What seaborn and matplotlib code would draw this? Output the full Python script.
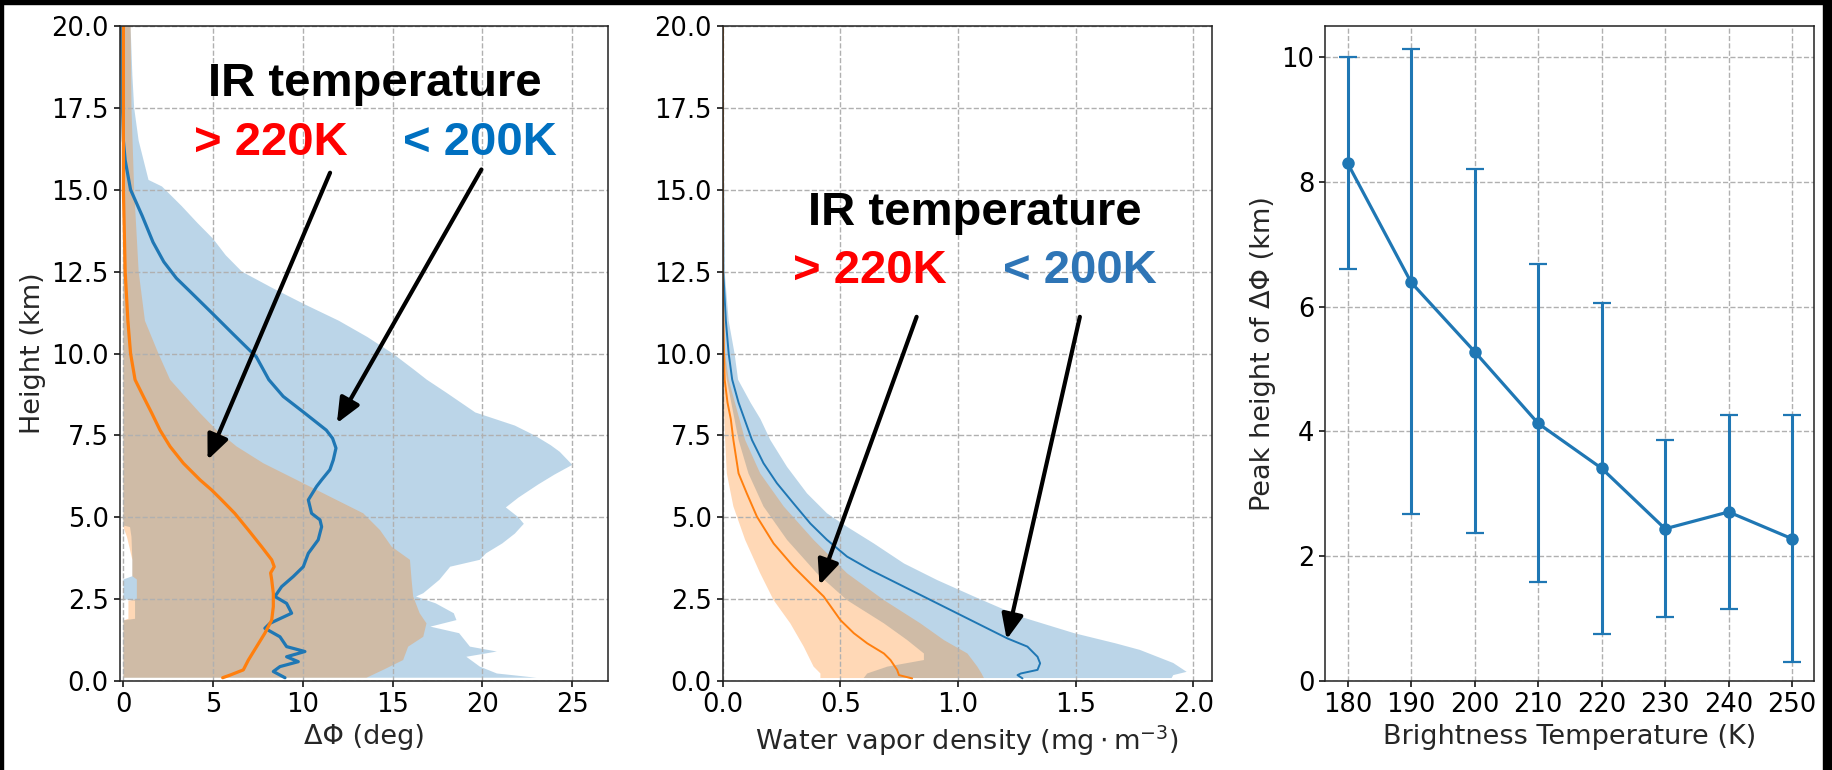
import numpy as np
import matplotlib
matplotlib.use("Agg")
import matplotlib.pyplot as plt
from matplotlib.patches import Rectangle
import seaborn as sns

# ---------------- Panel 1: Delta-Phi profiles ----------------
# cold (< 200K) mean profile
dphi_cold_h = [20.0, 17.5, 16.5, 15.9, 15.0, 14.2, 13.4, 12.8, 12.3, 11.9, 11.2, 10.6, 9.9, 9.2,
               8.69, 8.18, 7.66, 7.41, 7.11, 6.75, 6.45, 6.14, 5.94, 5.53, 5.12, 4.92, 4.71, 4.31,
               3.90, 3.49, 3.19, 2.88, 2.58, 2.37, 2.07, 1.76, 1.61, 1.35, 1.05, 0.90, 0.74, 0.59,
               0.44, 0.29, 0.10]
dphi_cold_v = [-0.1, -0.05, 0.0, 0.1, 0.4, 1.05, 1.65, 2.25, 2.95, 3.7, 5.0, 6.1, 7.4, 8.1,
               8.9, 10.1, 11.3, 11.65, 11.84, 11.69, 11.5, 11.04, 10.76, 10.3, 10.48, 10.95, 11.04, 10.85,
               10.3, 10.02, 9.46, 8.81, 8.44, 9.09, 9.37, 8.16, 7.88, 8.72, 9.09, 10.11, 9.09, 9.74,
               8.72, 8.35, 9.0]
# warm (> 220K) mean profile
dphi_warm_h = [20.0, 17.5, 15.0, 12.5, 11.0, 10.0, 9.2, 8.69, 8.18, 7.66, 7.16, 6.65, 6.14, 5.83,
               5.53, 5.12, 4.61, 4.10, 3.70, 3.49, 3.30, 3.09, 2.68, 2.27, 1.86, 1.46, 1.05, 0.64,
               0.34, 0.18, 0.10]
dphi_warm_v = [0.0, 0.0, 0.0, 0.1, 0.25, 0.4, 0.65, 1.11, 1.58, 2.04, 2.6, 3.34, 4.27, 4.92,
               5.47, 6.2, 6.96, 7.7, 8.26, 8.4, 8.2, 8.26, 8.35, 8.35, 8.26, 7.88, 7.42, 6.96,
               6.68, 5.94, 5.53]
# cold spread (upper / lower edges)
dphi_cold_hi_h = [20.0, 18.5, 17.5, 16.5, 15.3, 15.1, 14.5, 14.0, 13.5, 13.0, 12.5, 12.0, 11.5, 11.0,
                  10.5, 10.0, 9.5, 9.2, 8.8, 8.2, 7.8, 7.5, 7.2, 7.0, 6.6, 6.3, 6.0, 5.6, 5.3, 5.0,
                  4.8, 4.5, 4.2, 3.9, 3.7, 3.49, 3.09, 2.68, 2.58, 2.37, 2.07, 1.86, 1.66, 1.46, 1.05,
                  0.90, 0.74, 0.44, 0.23, 0.10]
dphi_cold_hi_v = [0.4, 0.5, 0.6, 0.85, 1.4, 2.15, 3.25, 4.1, 5.0, 5.7, 6.6, 8.3, 10.1, 12.0,
                  13.6, 15.0, 16.2, 16.9, 18.0, 19.6, 21.8, 22.9, 23.8, 24.3, 25.0, 24.0, 23.1, 22.0,
                  21.3, 22.0, 22.3, 21.8, 21.1, 20.2, 19.85, 18.2, 17.6, 16.7, 16.3, 17.4, 18.4, 18.55,
                  17.1, 18.7, 19.3, 20.8, 19.1, 19.85, 20.8, 23.0]
dphi_cold_lo_h = [20.0, 4.75, 4.7, 4.4, 3.7, 3.2, 3.1, 2.5, 2.45, 1.9, 1.85, 0.10]
dphi_cold_lo_v = [0.0, 0.0, 0.37, 0.45, 0.5, 0.5, 0.0, 0.0, 0.65, 0.65, 0.0, 0.0]
# warm spread (upper / lower edges)
dphi_warm_hi_h = [20.0, 17.5, 15.0, 12.5, 11.0, 10.0, 9.2, 8.69, 8.18, 7.66, 7.16, 6.65, 6.14, 5.63,
                  5.12, 4.61, 4.10, 3.70, 3.09, 2.58, 2.07, 1.76, 1.35, 1.05, 0.64, 0.34, 0.10]
dphi_warm_hi_v = [0.4, 0.45, 0.6, 0.85, 1.2, 1.95, 2.6, 3.43, 4.27, 5.19, 6.31, 7.79, 9.65, 11.5,
                  13.36, 14.29, 14.94, 15.96, 16.05, 16.14, 16.5, 16.88, 16.7, 15.86, 15.58, 14.47, 13.54]
dphi_warm_lo_h = [20.0, 4.75, 4.7, 4.4, 3.7, 3.2, 3.1, 2.5, 2.45, 1.9, 1.85, 0.10]
dphi_warm_lo_v = [0.0, 0.0, 0.0, 0.2, 0.5, 0.5, 0.75, 0.75, 0.28, 0.28, 0.0, 0.0]

# ---------------- Panel 2: water vapor density profiles ----------------
wv_cold_h = [20.0, 12.5, 11.0, 10.0, 9.2, 8.5, 8.0, 7.36, 6.65, 6.04, 5.42, 4.81, 4.31, 3.80,
             3.39, 2.88, 2.37, 1.86, 1.30, 1.05, 0.74, 0.54, 0.34, 0.23, 0.18, 0.08]
wv_cold_v = [0.0, 0.002, 0.013, 0.025, 0.04, 0.067, 0.092, 0.124, 0.173, 0.23, 0.301, 0.372, 0.443, 0.528,
             0.628, 0.77, 0.912, 1.054, 1.21, 1.295, 1.338, 1.349, 1.338, 1.267, 1.253, 1.274]
wv_warm_h = [20.0, 12.0, 10.0, 9.2, 8.5, 8.0, 7.36, 6.34, 5.73, 5.02, 4.20, 3.49, 2.98, 2.58,
             1.86, 1.46, 1.15, 0.84, 0.64, 0.34, 0.18, 0.08]
wv_warm_v = [0.0, 0.0, 0.005, 0.008, 0.02, 0.034, 0.045, 0.067, 0.102, 0.145, 0.216, 0.301, 0.372, 0.429,
             0.50, 0.557, 0.614, 0.685, 0.713, 0.741, 0.749, 0.805]
wv_cold_hi_h = [20.0, 12.5, 11.0, 10.0, 9.2, 8.5, 8.0, 7.36, 6.54, 5.73, 5.12, 4.71, 4.20, 3.59,
                3.08, 2.58, 1.96, 1.46, 1.15, 0.95, 0.55, 0.28, 0.18, 0.09]
wv_cold_hi_v = [0.0, 0.008, 0.025, 0.05, 0.065, 0.118, 0.16, 0.202, 0.273, 0.358, 0.443, 0.528, 0.642, 0.77,
                0.912, 1.068, 1.267, 1.494, 1.67, 1.773, 1.915, 1.972, 1.915, 1.908]
wv_cold_lo_h = [20.0, 12.5, 10.0, 9.2, 7.36, 6.34, 5.33, 4.31, 3.29, 2.47, 1.76, 1.25, 0.84, 0.64,
                0.44, 0.23, 0.09]
wv_cold_lo_v = [0.0, 0.0, 0.005, 0.017, 0.067, 0.109, 0.173, 0.273, 0.40, 0.528, 0.685, 0.784, 0.855, 0.855,
                0.70, 0.614, 0.599]
wv_warm_hi_h = [20.0, 12.0, 10.0, 9.2, 7.36, 6.34, 5.33, 4.31, 3.29, 2.47, 1.76, 1.25, 0.84, 0.44,
                0.23, 0.09]
wv_warm_hi_v = [0.0, 0.002, 0.01, 0.025, 0.095, 0.159, 0.259, 0.386, 0.528, 0.685, 0.84, 0.94, 1.04, 1.082,
                1.10, 1.11]
wv_warm_lo_h = [20.0, 10.0, 9.2, 7.36, 6.34, 5.33, 4.31, 3.29, 2.47, 1.76, 1.05, 0.44, 0.23, 0.09]
wv_warm_lo_v = [0.0, 0.0, 0.0, 0.01, 0.017, 0.045, 0.095, 0.159, 0.216, 0.287, 0.344, 0.386, 0.415, 0.415]

# ---------------- Panel 3: peak height vs brightness temperature ----------------
bt_k = [180, 190, 200, 210, 220, 230, 240, 250]
peak_mean = [8.30, 6.39, 5.28, 4.13, 3.41, 2.44, 2.71, 2.28]
peak_low = [6.61, 2.67, 2.37, 1.59, 0.76, 1.02, 1.16, 0.30]
peak_high = [10.0, 10.13, 8.21, 6.68, 6.06, 3.87, 4.27, 4.27]

# ---------------- Annotation text ----------------
title_text = "IR temperature"
warm_text = "> 220K"
cold_text = "< 200K"

# ---------------- Style ----------------
sns.set_style("ticks")
plt.rcParams["font.family"] = ["DejaVu Sans"]
plt.rcParams["axes.linewidth"] = 1.1
plt.rcParams["xtick.major.size"] = 4.5
plt.rcParams["ytick.major.size"] = 4.5
plt.rcParams["xtick.major.width"] = 1.1
plt.rcParams["ytick.major.width"] = 1.1

BLUE = "#1f77b4"
ORANGE = "#ff7f0e"
TICK_FS = 18.5
LABEL_FS = 19.5
ANN_FS = 34
ANN_FONT = ["Liberation Sans", "DejaVu Sans"]

fig = plt.figure(figsize=(18.32, 7.70), dpi=100)
bottom, height = 0.11558, 0.85065
ax1 = fig.add_axes([0.06539, bottom, 0.26659, height])
ax2 = fig.add_axes([0.39454, bottom, 0.26681, height])
ax3 = fig.add_axes([0.72347, bottom, 0.26687, height])


def band(ax, hi_v, hi_h, lo_v, lo_h, color):
    xs = np.r_[np.asarray(hi_v), np.asarray(lo_v)[::-1]]
    ys = np.r_[np.asarray(hi_h), np.asarray(lo_h)[::-1]]
    ax.fill(xs, ys, color=color, alpha=0.3, lw=0, zorder=1)


def style_axes(ax):
    ax.set_axisbelow("line")
    ax.grid(True, linestyle="--", color="#b0b0b0", linewidth=1.0)
    ax.tick_params(labelsize=TICK_FS, colors="black")
    for s in ax.spines.values():
        s.set_color("#222222")
        s.set_visible(True)


def arrow(ax, start, tip):
    ax.annotate("", xy=tip, xytext=start, xycoords="data", textcoords="data",
                arrowprops=dict(arrowstyle="-|>,head_length=0.6,head_width=0.26",
                                mutation_scale=25, lw=3.0, color="black",
                                shrinkA=0, shrinkB=0), zorder=5)


# ---- panel 1 ----
band(ax1, dphi_cold_hi_v, dphi_cold_hi_h, dphi_cold_lo_v, dphi_cold_lo_h, BLUE)
band(ax1, dphi_warm_hi_v, dphi_warm_hi_h, dphi_warm_lo_v, dphi_warm_lo_h, ORANGE)
sns.lineplot(x=dphi_cold_v, y=dphi_cold_h, orient="y", sort=False, estimator=None,
             color=BLUE, lw=2.3, ax=ax1)
sns.lineplot(x=dphi_warm_v, y=dphi_warm_h, orient="y", sort=False, estimator=None,
             color=ORANGE, lw=2.3, ax=ax1)
ax1.set_xlim(-0.2, 27.0)
ax1.set_ylim(0, 20)
ax1.set_xticks([0, 5, 10, 15, 20, 25])
ax1.set_yticks(np.arange(0, 20.01, 2.5))
ax1.set_xlabel("ΔΦ (deg)", fontsize=LABEL_FS)
ax1.set_ylabel("Height (km)", fontsize=LABEL_FS)
style_axes(ax1)
ax1.text(14.0, 17.86, title_text, ha="center", va="baseline", fontsize=ANN_FS,
         fontweight="bold", family=ANN_FONT, color="black", zorder=6)
ax1.text(8.21, 16.06, warm_text, ha="center", va="baseline", fontsize=ANN_FS,
         fontweight="bold", family=ANN_FONT, color="#ff0000", zorder=6)
ax1.text(19.86, 16.06, cold_text, ha="center", va="baseline", fontsize=ANN_FS,
         fontweight="bold", family=ANN_FONT, color="#0070c0", zorder=6)
arrow(ax1, (11.51, 15.52), (4.69, 6.75))
arrow(ax1, (19.94, 15.62), (11.89, 7.87))

# ---- panel 2 ----
band(ax2, wv_cold_hi_v, wv_cold_hi_h, wv_cold_lo_v, wv_cold_lo_h, BLUE)
band(ax2, wv_warm_hi_v, wv_warm_hi_h, wv_warm_lo_v, wv_warm_lo_h, ORANGE)
sns.lineplot(x=wv_cold_v, y=wv_cold_h, orient="y", sort=False, estimator=None,
             color=BLUE, lw=1.4, ax=ax2)
sns.lineplot(x=wv_warm_v, y=wv_warm_h, orient="y", sort=False, estimator=None,
             color=ORANGE, lw=1.4, ax=ax2)
ax2.set_xlim(0, 2.078)
ax2.set_ylim(0, 20)
ax2.set_xticks([0.0, 0.5, 1.0, 1.5, 2.0])
ax2.set_yticks(np.arange(0, 20.01, 2.5))
ax2.set_xlabel(r"Water vapor density ($\mathrm{mg} \cdot \mathrm{m}^{-3}$)", fontsize=LABEL_FS)
ax2.set_ylabel("")
style_axes(ax2)
ax2.text(1.072, 13.92, title_text, ha="center", va="baseline", fontsize=ANN_FS,
         fontweight="bold", family=ANN_FONT, color="black", zorder=6)
ax2.text(0.626, 12.14, warm_text, ha="center", va="baseline", fontsize=ANN_FS,
         fontweight="bold", family=ANN_FONT, color="#ff0000", zorder=6)
ax2.text(1.517, 12.14, cold_text, ha="center", va="baseline", fontsize=ANN_FS,
         fontweight="bold", family=ANN_FONT, color="#2e75b6", zorder=6)
arrow(ax2, (0.824, 11.12), (0.411, 2.93))
arrow(ax2, (1.518, 11.12), (1.207, 1.27))

# ---- panel 3 ----
yerr = [np.asarray(peak_mean) - np.asarray(peak_low), np.asarray(peak_high) - np.asarray(peak_mean)]
ax3.errorbar(bt_k, peak_mean, yerr=yerr, fmt="none", ecolor=BLUE, elinewidth=2.2,
             capsize=6.5, capthick=1.6, zorder=2)
sns.lineplot(x=bt_k, y=peak_mean, color=BLUE, lw=2.3, marker="o", markersize=9,
             markeredgewidth=0, estimator=None, ax=ax3, zorder=3)
ax3.set_xlim(176.5, 253.5)
ax3.set_ylim(0, 10.5)
ax3.set_xticks(bt_k)
ax3.set_yticks([0, 2, 4, 6, 8, 10])
ax3.set_xlabel("Brightness Temperature (K)", fontsize=LABEL_FS)
ax3.set_ylabel("Peak height of ΔΦ (km)", fontsize=LABEL_FS)
style_axes(ax3)

# ---- outer black frame (top, left, right) ----
fig.patches.append(Rectangle((0, 1 - 4 / 770), 1, 4 / 770, transform=fig.transFigure,
                             color="black", zorder=10))
fig.patches.append(Rectangle((0, 0), 3 / 1832, 1, transform=fig.transFigure,
                             color="black", zorder=10))
fig.patches.append(Rectangle((1 - 9 / 1832, 0), 9 / 1832, 1, transform=fig.transFigure,
                             color="black", zorder=10))

fig.savefig("out.png", dpi=100)
